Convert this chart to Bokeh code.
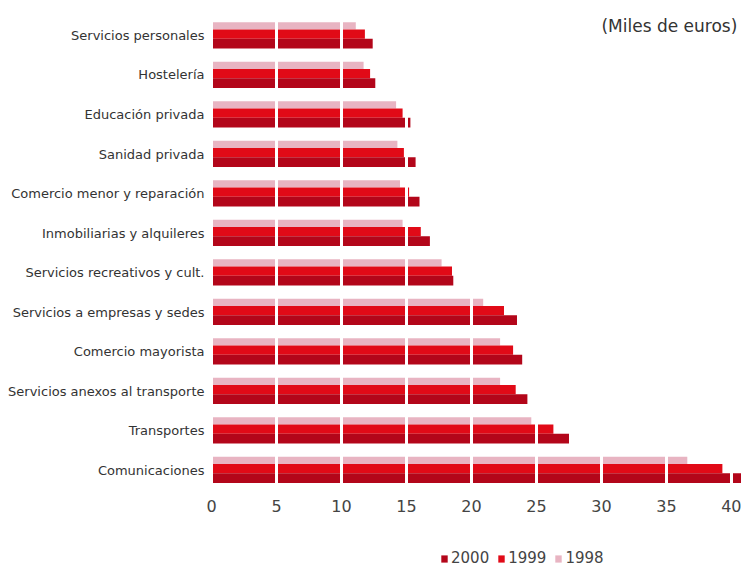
from bokeh.plotting import figure
from bokeh.models import Legend, LegendItem, Label, FixedTicker, ColumnDataSource, Range1d
from bokeh.transform import dodge
from bokeh.embed import file_html
from bokeh.resources import INLINE

categories = [
    "Servicios personales",
    "Hostelería",
    "Educación privada",
    "Sanidad privada",
    "Comercio menor y reparación",
    "Inmobiliarias y alquileres",
    "Servicios recreativos y cult.",
    "Servicios a empresas y sedes",
    "Comercio mayorista",
    "Servicios anexos al transporte",
    "Transportes",
    "Comunicaciones",
]
v2000 = [12.4, 12.6, 15.3, 15.7, 16.0, 16.8, 18.6, 23.5, 23.9, 24.3, 27.5, 41.2]
v1999 = [11.8, 12.2, 14.7, 14.8, 15.2, 16.1, 18.5, 22.5, 23.2, 23.4, 26.3, 39.3]
v1998 = [11.1, 11.7, 14.2, 14.3, 14.5, 14.7, 17.7, 20.9, 22.2, 22.2, 24.6, 36.6]
x_ticks = [0, 5, 10, 15, 20, 25, 30, 35, 40]

FONT = "DejaVu Sans"

n = len(categories)
ypos = [n - 1 - i for i in range(n)]  # top category highest
src = ColumnDataSource(dict(y=ypos, cat=categories, v2000=v2000, v1999=v1999, v1998=v1998))

p = figure(
    width=741, height=567,
    y_range=Range1d(-2.468, 11.886),
    x_range=Range1d(-0.538, 40.77),
    output_backend="svg", toolbar_location=None,
    min_border_left=204, min_border_right=0, min_border_top=0, min_border_bottom=0,
)
p.outline_line_color = None
p.background_fill_color = "white"

r98 = p.hbar(y=dodge("y", 0.245), left=0, right="v1998", height=0.18,
             source=src, color="#e8b4c2", line_color=None)
r99 = p.hbar(y=dodge("y", 0.035), left=0, right="v1999", height=0.24,
             source=src, color="#e10a17", line_color=None)
r00 = p.hbar(y=dodge("y", -0.205), left=0, right="v2000", height=0.25,
             source=src, color="#b3061a", line_color=None)

p.ygrid.grid_line_color = None
p.xgrid.grid_line_color = "white"
p.xgrid.grid_line_width = 3
p.xgrid.level = "annotation"
p.xaxis.ticker = FixedTicker(ticks=x_ticks)

p.xaxis.fixed_location = -0.547
p.xaxis.level = "overlay"
p.xaxis.axis_line_color = None
p.xaxis.major_tick_line_color = None
p.xaxis.minor_tick_line_color = None
p.xaxis.major_tick_in = 0
p.xaxis.major_tick_out = 0
p.xaxis.major_label_standoff = 8
p.xaxis.major_label_text_font = FONT
p.xaxis.major_label_text_font_size = "16px"
p.xaxis.major_label_text_color = "#444444"

p.yaxis.ticker = FixedTicker(ticks=ypos)
p.yaxis.major_label_overrides = {y: c for y, c in zip(ypos, categories)}
p.yaxis.axis_line_color = None
p.yaxis.major_tick_line_color = None
p.yaxis.minor_tick_line_color = None
p.yaxis.major_tick_in = 0
p.yaxis.major_tick_out = 0
p.yaxis.major_label_standoff = 0
p.yaxis.major_label_text_font = FONT
p.yaxis.major_label_text_font_size = "13px"
p.yaxis.major_label_text_color = "#333333"

note = Label(x=40.45, y=11.253, text="(Miles de euros)", text_align="right",
             text_baseline="middle", text_font=FONT, text_font_size="17px",
             text_color="#333333")
note.level = "overlay"
p.add_layout(note)

legend = Legend(items=[
    LegendItem(label="2000", renderers=[r00]),
    LegendItem(label="1999", renderers=[r99]),
    LegendItem(label="1998", renderers=[r98]),
], orientation="horizontal", location=(236, 0))
legend.level = "overlay"
legend.glyph_width = 8
legend.glyph_height = 9
legend.label_height = 15
legend.label_standoff = 3
legend.spacing = 8
legend.padding = 0
legend.margin = 0
legend.border_line_color = None
legend.background_fill_alpha = 0
legend.label_text_font = FONT
legend.label_text_font_size = "15px"
legend.label_text_color = "#444444"
p.add_layout(legend, "center")

open("out.html", "w").write(file_html(p, INLINE))
